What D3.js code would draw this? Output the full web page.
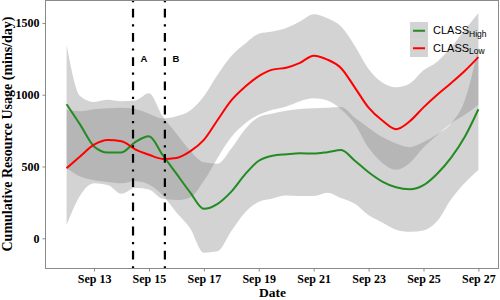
<!DOCTYPE html>
<html>
<head>
<meta charset="utf-8">
<script src="https://cdnjs.cloudflare.com/ajax/libs/d3/7.8.5/d3.min.js"></script>
<style>
  body { margin: 0; background: #fff; }
  svg { display: block; }
</style>
</head>
<body>
<div id="chart"></div>
<script>
"use strict";
// day of September (half day steps), smoothed usage per class
var days = [12, 12.5, 13, 13.5, 14, 14.5, 15, 15.5, 16, 16.5, 17, 17.5, 18, 18.5, 19, 19.5,
  20, 20.5, 21, 21.5, 22, 22.5, 23, 23.5, 24, 24.5, 25, 25.5, 26, 26.5, 27];

var highMean = [934, 790, 640, 598, 598, 670, 710, 580, 450, 320, 205, 240, 325, 445, 540, 575,
  585, 592, 590, 600, 615, 540, 460, 395, 355, 341, 370, 450, 560, 705, 899];
var highUpper = [1347, 990, 950, 965, 955, 960, 1010, 850, 730, 610, 530, 520, 625, 760, 845, 870,
  888, 900, 906, 910, 915, 840, 770, 705, 660, 635, 670, 725, 800, 960, 1330];
var highLower = [488, 430, 405, 392, 383, 398, 375, 300, 180, 70, -100, -90, 50, 180, 255, 278,
  298, 295, 295, 318, 280, 240, 160, 110, 60, 45, 55, 120, 270, 385, 476];

var lowMean = [488, 572, 652, 685, 676, 620, 582, 553, 560, 605, 685, 824, 960, 1055, 1130, 1175,
  1188, 1222, 1272, 1245, 1185, 1050, 910, 820, 760, 815, 912, 1000, 1080, 1165, 1262];
var lowUpper = [895, 885, 899, 906, 910, 900, 868, 835, 850, 890, 990, 1140, 1270, 1355, 1425, 1440,
  1465, 1510, 1560, 1533, 1475, 1340, 1180, 1085, 1052, 1078, 1170, 1230, 1330, 1450, 1570];
var lowLower = [93, 300, 383, 372, 310, 350, 340, 275, 267, 285, 400, 560, 705, 800, 860, 895,
  918, 955, 975, 960, 898, 795, 630, 525, 478, 525, 632, 720, 800, 860, 930];

// event markers (day of September) and labels
var eventDays = [14.42, 15.58];
var eventLabels = ["A", "B"];
var eventLabelValue = 1250;

var xTickDays = [13, 15, 17, 19, 21, 23, 25, 27];
var yTicks = [0, 500, 1000, 1500];

var seriesNames = ["High", "Low"];
var seriesColors = ["#228b22", "#ff0000"];

var W = 500, H = 300;
var panel = { left: 46, right: 499, top: 0, bottom: 268 };

function toDate(d) {
  return new Date(Date.UTC(2014, 8, 1) + (d - 1) * 864e5);
}

var x = d3.scaleUtc()
  .domain([toDate(11.25), toDate(27.75)])
  .range([panel.left, panel.right]);
var y = d3.scaleLinear()
  .domain([-207, 1660])
  .range([panel.bottom, panel.top]);

var svg = d3.select("#chart").append("svg")
  .attr("width", W)
  .attr("height", H);

svg.append("clipPath").attr("id", "clip")
  .append("rect")
  .attr("x", panel.left).attr("y", panel.top)
  .attr("width", panel.right - panel.left)
  .attr("height", panel.bottom - panel.top);

function rows(mean, lo, hi) {
  return days.map(function(d, i) {
    return { date: toDate(d), m: mean[i], lo: lo[i], hi: hi[i] };
  });
}
var series = [rows(highMean, highLower, highUpper), rows(lowMean, lowLower, lowUpper)];

var area = d3.area()
  .curve(d3.curveMonotoneX)
  .x(function(d) { return x(d.date); })
  .y0(function(d) { return y(d.lo); })
  .y1(function(d) { return y(d.hi); });
var line = d3.line()
  .curve(d3.curveMonotoneX)
  .x(function(d) { return x(d.date); })
  .y(function(d) { return y(d.m); });

var plot = svg.append("g").attr("clip-path", "url(#clip)");

plot.selectAll(".ribbon")
  .data(series)
  .enter().append("path")
  .attr("class", "ribbon")
  .attr("d", area)
  .attr("fill", "#808080")
  .attr("fill-opacity", 0.35);

plot.selectAll(".smooth")
  .data(series)
  .enter().append("path")
  .attr("class", "smooth")
  .attr("d", line)
  .attr("fill", "none")
  .attr("stroke", function(d, i) { return seriesColors[i]; })
  .attr("stroke-width", 2);

//dot-dash event lines
plot.selectAll(".event")
  .data(eventDays)
  .enter().append("line")
  .attr("class", "event")
  .attr("x1", function(d) { return x(toDate(d)); })
  .attr("x2", function(d) { return x(toDate(d)); })
  .attr("y1", panel.top)
  .attr("y2", panel.bottom)
  .attr("stroke", "#000")
  .attr("stroke-width", 2.2)
  .attr("stroke-dasharray", "2.2,6.6,8.8,6.6");

svg.selectAll(".event-label")
  .data(eventDays)
  .enter().append("text")
  .attr("class", "event-label")
  .attr("x", function(d) { return x(toDate(d + 0.4)); })
  .attr("y", y(eventLabelValue))
  .attr("dy", "0.35em")
  .attr("text-anchor", "middle")
  .style("font", "bold 9.5px 'Liberation Sans', Arial, sans-serif")
  .text(function(d, i) { return eventLabels[i]; });

// panel border
svg.append("rect")
  .attr("x", panel.left - 0.5).attr("y", panel.top + 0.5)
  .attr("width", panel.right - panel.left)
  .attr("height", panel.bottom - panel.top)
  .attr("fill", "none")
  .attr("stroke", "#8a8a8a")
  .attr("stroke-width", 1);

var fmt = d3.utcFormat("%b %d");
var xAxis = svg.append("g")
  .attr("transform", "translate(0," + (panel.bottom + 0.5) + ")")
  .call(d3.axisBottom(x)
    .tickValues(xTickDays.map(toDate))
    .tickFormat(fmt)
    .tickSizeInner(3).tickSizeOuter(0).tickPadding(3));
var yAxis = svg.append("g")
  .attr("transform", "translate(" + (panel.left - 0.5) + ",0)")
  .call(d3.axisLeft(y)
    .tickValues(yTicks)
    .tickFormat(d3.format("d"))
    .tickSizeInner(3).tickSizeOuter(0).tickPadding(3));

[xAxis, yAxis].forEach(function(a) {
  a.select(".domain").remove();
  a.selectAll(".tick line").attr("stroke", "#8a8a8a");
  a.selectAll(".tick text")
    .attr("fill", "#000")
    .style("font", "bold 12px 'Liberation Serif', 'Times New Roman', serif");
});

svg.append("text")
  .attr("x", (panel.left + panel.right) / 2)
  .attr("y", 297)
  .attr("text-anchor", "middle")
  .style("font", "bold 13.5px 'Liberation Serif', 'Times New Roman', serif")
  .text("Date");

svg.append("text")
  .attr("transform", "translate(12," + (panel.bottom / 2) + ") rotate(-90)")
  .attr("text-anchor", "middle")
  .style("font", "bold 14px 'Liberation Serif', 'Times New Roman', serif")
  .text("Cumulative Resource Usage (mins/day)");

// legend
var legend = svg.append("g").attr("transform", "translate(410,22)");
var keyH = 17.5;
var key = legend.selectAll(".key")
  .data(seriesNames)
  .enter().append("g")
  .attr("class", "key")
  .attr("transform", function(d, i) { return "translate(0," + i * keyH + ")"; });
key.append("rect")
  .attr("width", 18).attr("height", keyH)
  .attr("fill", "#808080").attr("fill-opacity", 0.35);
key.append("line")
  .attr("x1", 3).attr("x2", 15)
  .attr("y1", keyH / 2).attr("y2", keyH / 2)
  .attr("stroke", function(d, i) { return seriesColors[i]; })
  .attr("stroke-width", 2);
var lt = key.append("text")
  .attr("x", 23)
  .attr("y", 12)
  .style("font", "11px 'Liberation Sans', Arial, sans-serif");
lt.append("tspan").text("CLASS");
lt.append("tspan")
  .attr("dy", 2.5)
  .style("font-size", "8.5px")
  .text(function(d) { return d; });
</script>
</body>
</html>
